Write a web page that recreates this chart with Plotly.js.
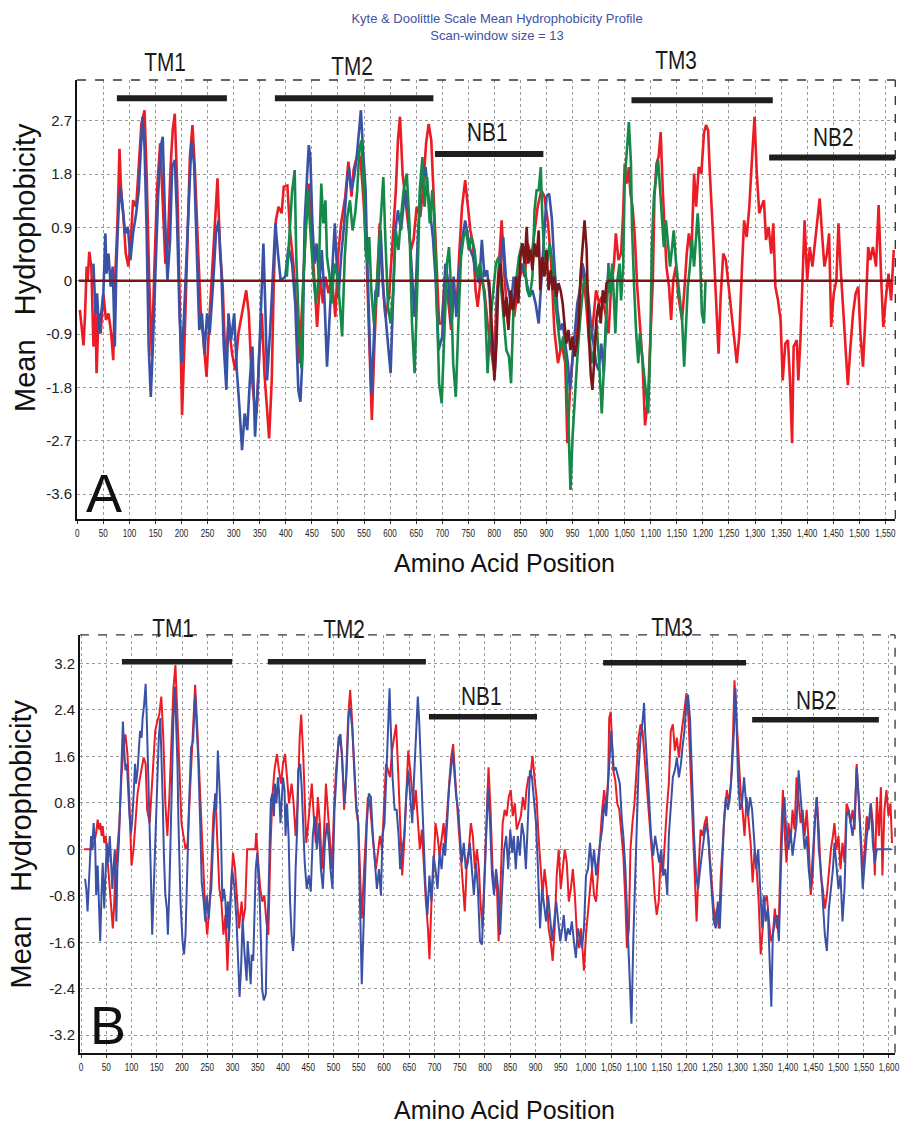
<!DOCTYPE html>
<html>
<head>
<meta charset="utf-8">
<script src="https://cdn.plot.ly/plotly-3.0.1.min.js"></script>
<style>
html,body{margin:0;padding:0;background:#fff;}
#chart{width:906px;height:1125px;}
</style>
</head>
<body>
<div id="chart"></div>
<script>
// ---------------- DATA ----------------
const redA = [[5,-0.49],[9,-0.89],[12,-1.09],[15,-0.55],[18,0.24],[20,0.01],[23,0.49],[27,0.24],[31,-1.11],[35,-0.49],[37,-1.56],[41,-0.55],[45,-0.89],[50,-0.21],[55,-0.66],[60,-0.55],[65,-0.89],[69,-1.34],[73,0.12],[77,0.97],[81,2.23],[84,1.53],[88,1.14],[93,0.46],[98,0.24],[103,0.74],[107,1.36],[113,1.25],[118,1.98],[123,2.65],[129,2.88],[133,1.81],[138,0.01],[143,-1.28],[148,0.24],[153,1.53],[159,2.32],[164,1.42],[169,0.29],[174,0.69],[179,1.92],[183,2.54],[187,2.82],[192,1.53],[197,-0.83],[201,-2.27],[207,-0.66],[212,1.14],[216,2.09],[221,2.63],[226,1.81],[231,0.69],[237,-0.55],[242,-1.0],[248,-1.62],[254,-0.55],[261,0.46],[269,1.73],[274,0.46],[279,-0.1],[284,-1.39],[290,-0.72],[297,-1.23],[303,-1.51],[309,-0.89],[316,-0.55],[324,-0.16],[329,-0.55],[334,-1.56],[339,-2.01],[344,-2.24],[349,-1.23],[354,-0.55],[359,-1.56],[364,-2.24],[368,-2.66],[373,-1.68],[377,0.01],[381,1.02],[386,1.25],[392,1.14],[396,1.59],[403,1.61],[408,0.85],[415,0.24],[426,-1.39],[432,-0.27],[438,0.85],[444,1.64],[450,0.69],[455,-0.21],[460,-0.78],[466,0.07],[471,-0.38],[476,0.07],[482,-0.21],[488,0.07],[495,-0.61],[500,0.40],[506,0.97],[514,1.42],[520,2.01],[526,1.42],[530,1.87],[536,2.09],[543,2.09],[549,1.36],[555,0.40],[560,-1.0],[565,-2.35],[570,-1.06],[576,0.07],[580,0.97],[585,0.07],[591,-0.61],[598,-0.27],[604,0.63],[611,1.53],[615,2.37],[619,2.77],[624,1.81],[629,1.42],[634,1.08],[640,0.52],[645,0.69],[651,1.25],[658,1.08],[664,1.64],[669,2.32],[674,2.65],[679,2.37],[685,1.08],[690,-0.16],[694,-0.72],[699,-0.72],[705,0.07],[712,-0.38],[717,-0.83],[723,-0.16],[728,-0.38],[733,0.52],[738,1.25],[744,1.70],[749,1.25],[754,0.85],[759,0.63],[764,-0.16],[768,-0.44],[774,0.07],[781,-0.16],[787,-0.72],[794,-1.17],[799,-1.51],[804,-0.38],[809,0.40],[814,1.02],[819,0.12],[826,-0.72],[832,-0.27],[838,-0.61],[845,-0.16],[851,0.29],[858,0.07],[864,0.63],[871,0.40],[877,0.85],[883,1.25],[890,1.53],[896,1.42],[903,0.97],[909,0.29],[915,-0.83],[922,-1.39],[929,-1.06],[936,-1.39],[940,-2.74],[945,-1.84],[951,-1.17],[958,-0.83],[964,-0.16],[969,0.29],[976,-0.38],[982,-1.06],[988,-0.83],[995,-0.16],[1001,-0.38],[1006,-0.27],[1013,-0.55],[1019,-0.89],[1024,-0.10],[1029,0.24],[1033,0.80],[1038,0.35],[1043,0.46],[1047,1.14],[1050,1.98],[1054,1.64],[1058,1.92],[1061,1.47],[1065,1.25],[1069,0.80],[1074,-0.10],[1079,-0.66],[1084,-1.34],[1089,-2.44],[1095,-1.96],[1098,-1.23],[1104,0.01],[1107,1.42],[1111,1.98],[1115,2.09],[1119,2.51],[1123,1.53],[1127,0.85],[1130,0.24],[1135,-0.10],[1139,-0.66],[1143,0.01],[1148,0.24],[1153,-0.27],[1160,-0.66],[1164,-0.21],[1169,0.46],[1173,0.80],[1178,0.46],[1183,1.81],[1187,1.25],[1192,1.92],[1197,1.81],[1202,2.49],[1206,2.63],[1210,2.54],[1213,1.87],[1219,0.85],[1222,0.24],[1226,-0.55],[1230,-1.23],[1234,-0.27],[1239,0.46],[1244,0.35],[1249,-0.10],[1254,-0.44],[1259,-0.89],[1265,-1.39],[1270,-0.89],[1275,0.24],[1279,1.02],[1284,0.74],[1289,1.25],[1294,2.04],[1299,2.77],[1303,1.87],[1308,1.14],[1312,1.25],[1317,1.36],[1321,0.69],[1326,0.91],[1331,0.46],[1335,0.97],[1339,-0.10],[1344,-0.33],[1349,-0.66],[1353,-1.68],[1358,-1.06],[1363,-1.0],[1367,-1.68],[1371,-2.74],[1374,-1.11],[1380,-1.0],[1383,-1.68],[1387,-1.0],[1391,0.01],[1395,1.02],[1400,0.01],[1405,0.57],[1410,0.24],[1415,0.69],[1420,1.02],[1424,1.39],[1428,0.85],[1433,0.24],[1438,0.46],[1442,0.80],[1446,-0.78],[1451,-0.21],[1456,0.01],[1460,0.97],[1464,0.24],[1469,-0.44],[1474,-1.11],[1478,-1.76],[1483,-1.11],[1488,-0.55],[1493,-0.21],[1498,-0.10],[1502,-0.89],[1507,-1.45],[1512,-0.55],[1517,0.57],[1521,0.35],[1526,0.57],[1532,0.24],[1537,1.28],[1542,0.01],[1546,-0.78],[1551,-0.27],[1556,0.12],[1561,-0.33],[1566,0.52]];

const blueA = [[31,0.29],[35,-0.55],[38,-0.21],[42,-0.89],[46,-0.55],[50,-0.21],[54,0.8],[56,0.12],[60,0.46],[64,-0.1],[68,0.24],[72,-1.11],[75,0.24],[79,1.14],[83,1.59],[87,1.25],[92,0.8],[97,0.91],[102,0.35],[107,0.8],[113,1.14],[118,1.53],[121,2.15],[125,2.77],[129,2.26],[133,0.85],[137,-1.11],[141,-1.96],[145,-1.11],[150,0.29],[155,1.42],[160,2.26],[164,2.43],[168,1.14],[173,0.01],[178,0.69],[182,1.92],[187,2.04],[191,1.14],[196,-0.55],[200,-1.39],[205,-0.55],[210,0.57],[215,1.7],[219,2.35],[224,1.98],[229,0.57],[234,-0.83],[239,-0.55],[244,-1.23],[249,-0.55],[254,-0.89],[261,0.01],[266,0.8],[271,1.02],[276,0.24],[281,-1.11],[286,-1.84],[290,-0.55],[295,-1.0],[301,-0.55],[306,-1.51],[311,-2.13],[316,-2.86],[321,-2.24],[326,-2.52],[331,-1.68],[336,-1.11],[341,-2.63],[347,-1.68],[352,-0.55],[357,0.63],[361,-0.55],[364,-1.68],[370,-0.83],[375,0.01],[380,0.97],[385,0.46],[390,0.01],[399,0.07],[405,0.57],[412,0.29],[418,-0.38],[424,-1.84],[428,-2.04],[432,-1.28],[436,0.97],[440,1.64],[444,2.29],[447,2.09],[451,0.97],[455,0.29],[459,0.63],[464,-0.04],[469,0.52],[474,-0.27],[479,-1.45],[485,-0.44],[490,0.40],[494,0.97],[497,0.40],[501,-0.27],[506,0.40],[512,0.97],[517,1.64],[521,1.92],[526,1.53],[531,1.75],[536,2.09],[540,2.54],[544,2.88],[547,2.37],[553,1.53],[556,0.40],[560,-0.72],[564,-1.90],[568,-1.17],[572,-0.16],[577,-0.27],[582,0.85],[587,-0.16],[592,-0.72],[597,-1.17],[601,-1.56],[605,-0.44],[610,0.85],[615,1.19],[621,0.85],[626,1.30],[631,1.53],[636,0.97],[642,0.07],[647,-0.61],[653,0.69],[658,1.53],[663,1.75],[668,1.92],[672,1.53],[677,1.08],[682,0.74],[687,0.07],[693,-1.17],[700,-0.94],[706,0.29],[712,-0.04],[717,-0.72],[722,0.07],[727,-0.61],[732,0.07],[738,0.69],[744,1.02],[749,0.79],[754,0.52],[759,0.40],[764,0.18],[771,-0.04],[776,0.69],[781,0.07],[786,0.18],[791,-0.27],[796,-1.28],[801,-1.51],[806,-0.16],[812,0.29],[817,0.74],[822,0.07],[827,-0.16],[832,-0.38],[837,0.07],[842,-0.27],[847,-0.04],[854,0.29],[860,0.07],[867,-0.27],[873,-0.16],[879,-0.38],[885,-0.72],[890,0.07],[895,0.74],[900,1.42],[905,1.47],[910,1.08],[915,0.29],[921,-0.49],[926,-0.83],[931,-0.72],[936,-1.06],[941,-1.39],[945,-1.84],[949,-1.39],[954,-0.83],[959,-0.38],[964,-0.16],[969,0.29],[974,0.07],[979,-0.16],[985,-0.72],[990,-1.06],[995,-1.39],[1000,-1.51],[1005,-1.06],[1010,-1.56],[1015,-0.5],[1019,0.3]];

const greenA = [[402,0.07],[408,0.97],[412,1.5],[417,1.87],[420,0.40],[426,-1.0],[430,-1.48],[434,0.07],[438,0.85],[442,1.53],[447,0.85],[453,0.07],[458,-0.38],[463,0.07],[468,1.64],[472,0.97],[476,1.36],[479,0.40],[484,0.07],[488,-0.38],[493,0.29],[499,0.07],[504,-0.44],[508,-0.94],[513,0.40],[518,1.08],[523,1.36],[528,0.85],[533,1.13],[537,1.53],[541,2.20],[545,2.37],[549,1.75],[553,0.52],[557,0.29],[560,0.74],[564,-0.16],[569,-0.72],[573,-0.27],[578,0.40],[583,1.08],[587,1.75],[591,0.69],[596,-0.44],[601,-0.72],[606,-0.16],[611,0.85],[616,0.52],[621,1.08],[626,1.53],[632,1.81],[637,0.97],[642,-0.72],[647,-1.56],[652,-0.16],[657,1.53],[662,2.09],[666,1.25],[671,1.75],[676,0.97],[681,1.53],[685,0.97],[689,-0.16],[694,-1.73],[699,-2.07],[704,-0.72],[709,0.29],[713,0.57],[717,-0.16],[721,-1.39],[726,-1.96],[731,-0.72],[736,0.40],[741,0.74],[746,0.85],[751,0.52],[756,0.74],[762,0.52],[767,0.07],[772,0.29],[777,0.07],[782,-0.38],[787,-1.56],[792,-0.72],[797,-0.27],[803,0.29],[808,0.40],[813,-0.16],[818,-0.72],[823,-1.17],[828,-1.28],[832,-1.73],[837,-0.38],[842,0.07],[847,0.40],[853,0.63],[858,0.29],[863,-0.16],[868,-0.27],[873,0.07],[877,1.19],[881,1.53],[885,1.53],[889,1.92],[892,1.08],[896,0.40],[901,0.29],[906,0.63],[912,0.29],[917,-0.38],[922,-0.83],[927,-1.17],[932,-0.94],[937,-1.28],[942,-2.41],[946,-3.53],[950,-2.63],[955,-1.84],[960,-1.17],[965,-0.61],[971,-0.04],[976,0.07],[981,-0.72],[986,-1.39],[991,-1.17],[996,-0.72],[1001,-1.39],[1006,-2.24],[1011,-1.28],[1016,-0.27],[1019,0.24],[1022,-0.21],[1026,0.29],[1030,-0.44],[1032,-0.89],[1036,0.01],[1040,0.29],[1043,-0.33],[1047,0.24],[1050,1.70],[1054,2.26],[1058,2.68],[1062,1.98],[1064,0.91],[1068,-0.10],[1072,-0.89],[1076,-1.39],[1079,-0.89],[1083,-1.23],[1087,-1.56],[1091,-1.90],[1095,-2.24],[1099,-1.11],[1102,0.57],[1106,1.42],[1110,1.70],[1114,2.04],[1118,1.53],[1122,0.91],[1125,0.57],[1129,1.02],[1133,0.57],[1137,0.24],[1141,0.57],[1144,0.85],[1148,0.35],[1152,0.01],[1156,-0.44],[1160,-0.66],[1164,-1.45],[1168,-0.55],[1171,-0.10],[1175,0.24],[1179,0.69],[1183,0.24],[1187,0.80],[1190,1.14],[1194,0.57],[1198,-0.55],[1202,-0.72],[1205,0.01]];

const darkRedA = [[3,0],[790,0],[796,-0.9],[800,-1.68],[804,-1.06],[808,0.07],[812,0.29],[815,-0.16],[819,-0.61],[823,-0.27],[827,-0.83],[831,-0.16],[835,-0.49],[838,-0.38],[842,0.07],[846,-0.38],[850,0.40],[854,0.63],[858,0.29],[862,0.91],[865,0.29],[869,0.52],[873,0.18],[877,0.63],[881,0.40],[885,0.85],[888,-0.16],[892,0.40],[896,0.07],[900,0.52],[904,-0.16],[908,0.18],[912,-0.16],[915,0.07],[919,-0.27],[923,-0.04],[927,-0.16],[931,-0.38],[935,-0.72],[938,-1.06],[942,-0.83],[946,-1.17],[950,-0.94],[954,-1.28],[958,-1.06],[962,-0.72],[965,0.07],[969,0.52],[973,1.02],[977,0.52],[981,-0.90],[985,-1.60],[988,-1.84],[992,-1.28],[996,-0.61],[1000,-0.38],[1004,-0.72],[1008,-0.16],[1012,-0.38],[1015,-0.04],[1019,0],[1563,0]];

const redB = [[6,0],[22,0],[26,0.11],[30,0.28],[33,0.51],[36,0.34],[38,0.45],[41,0.23],[43,0.40],[46,0.11],[49,0.23],[53,-0.23],[57,-0.68],[60,-1.02],[63,-1.36],[66,-0.90],[68,-0.34],[72,0],[76,0.45],[80,1.24],[84,1.75],[88,1.98],[92,1.64],[96,0.79],[100,-0.28],[104,0],[108,0.45],[112,0.96],[116,1.19],[120,1.36],[124,1.58],[128,1.47],[131,0.68],[136,0.45],[140,1.07],[143,1.36],[147,2.04],[151,2.20],[155,2.32],[159,2.63],[163,1.92],[167,0.79],[171,0.23],[175,0.90],[179,1.92],[183,2.77],[187,3.17],[191,2.37],[195,1.36],[199,0.45],[203,0.23],[207,0],[211,0.11],[215,0.79],[219,1.47],[222,2.04],[226,2.83],[230,2.15],[234,1.36],[238,0.45],[242,-0.34],[246,-1.07],[250,-1.47],[254,-1.02],[258,-0.34],[262,0.57],[266,0.96],[270,0.23],[274,-0.68],[278,-0.90],[282,-1.47],[286,-1.13],[290,-2.09],[293,-1.36],[297,-0.68],[301,-0.06],[305,-0.34],[309,-0.79],[313,-1.36],[318,-0.90],[321,-1.24],[325,-1.02],[329,0],[345,0],[347,0.28],[351,-0.23],[355,-0.68],[359,-0.90],[363,-0.79],[367,-1.24],[371,-1.47],[375,0],[379,0.90],[383,1.36],[388,1.64],[392,1.36],[396,1.13],[400,1.47],[404,1.64],[408,1.24],[412,0.79],[417,1.13],[421,0.79],[425,0.23],[429,0.79],[433,1.92],[436,2.32],[440,1.64],[444,0.79],[446,0.11],[450,0.45],[454,0.79],[457,1.13],[461,0.57],[465,0.11],[469,0.90],[473,0.45],[477,-0.34],[481,0.23],[485,1.13],[489,0.68],[493,0.23],[497,-0.34],[501,0.68],[505,1.36],[509,1.75],[513,1.92],[517,1.64],[521,0.68],[525,1.24],[529,2.26],[533,2.74],[537,2.20],[541,1.36],[545,0.68],[549,0.45],[553,-0.62],[556,-1.19],[560,-0.45],[564,0.23],[568,0.90],[572,0.79],[576,0.34],[580,0],[584,-0.34],[588,0],[592,0.23],[596,0],[600,0.68],[604,1.47],[608,1.36],[612,1.24],[616,1.70],[620,1.92],[624,2.15],[628,1.36],[632,0.45],[636,-0.45],[640,0.11],[644,0.90],[648,1.70],[652,1.36],[656,1.02],[659,0.68],[663,1.02],[667,0.45],[671,0],[675,0.34],[679,-0.34],[683,-0.90],[687,-1.36],[690,-1.89],[694,-0.90],[698,-0.34],[702,0.45],[706,0.23],[710,-0.11],[714,0.23],[718,0.45],[721,0.11],[725,0.68],[729,1.13],[733,1.58],[737,1.81],[741,1.24],[745,0.68],[749,0.23],[753,-0.23],[757,-0.79],[760,-1.07],[764,-0.23],[768,0],[772,0.45],[776,0.23],[780,-0.34],[784,0],[788,-0.34],[791,-0.90],[795,-1.36],[799,-0.34],[803,0.57],[807,1.41],[811,0.68],[815,-0.34],[819,-0.68],[823,-0.45],[827,-1.58],[831,-0.34],[835,0.45],[839,0.68],[843,0.57],[847,0.90],[851,1.02],[855,0.57],[859,0.79],[863,0.34],[867,0.45],[871,0.57],[875,0.90],[879,0.68],[882,1.02],[886,1.24],[890,1.24],[894,1.61],[898,1.24],[902,0.90],[906,0.23],[910,-0.34],[914,-0.79],[918,-0.34],[922,-0.68],[926,-1.36],[930,-1.58],[934,-1.92],[938,-1.36],[942,-0.45],[946,0],[950,-0.68],[954,-0.34],[958,0],[962,-0.23],[966,-0.90],[970,-0.68],[974,-0.34],[978,-0.79],[982,-1.47],[986,-1.70],[990,-1.36],[993,-1.70],[996,-2.09],[1000,-1.47],[1004,-1.02],[1008,-0.68],[1012,-0.34],[1016,-0.79],[1020,-0.90],[1024,-0.34],[1028,0.11],[1032,0.68],[1036,1.02],[1040,0.68],[1044,1.24],[1046,2.26],[1049,2.37],[1051,1.92],[1054,1.36],[1058,1.19],[1062,0.79],[1066,0.68],[1070,0.23],[1074,-0.11],[1078,-0.90],[1081,-1.70],[1085,-1.36],[1088,0],[1092,0.45],[1096,0.79],[1100,1.36],[1104,1.92],[1108,2.15],[1112,2.04],[1116,1.58],[1120,1.13],[1124,0.68],[1128,0.34],[1132,-0.23],[1136,-0.79],[1140,-1.13],[1144,-0.90],[1148,-0.11],[1152,-0.45],[1156,0.23],[1160,0.68],[1164,1.13],[1168,2.04],[1172,2.15],[1176,1.70],[1180,1.92],[1184,1.58],[1188,1.92],[1191,2.15],[1195,2.37],[1199,2.69],[1203,2.26],[1207,1.36],[1211,0.45],[1215,-0.34],[1219,-1.24],[1223,-0.34],[1227,0.34],[1231,0.23],[1235,0.45],[1239,0.57],[1243,0.11],[1247,-0.34],[1251,-0.90],[1255,-1.24],[1259,-1.02],[1263,-1.36],[1267,-0.45],[1271,0.23],[1275,0.68],[1279,1.02],[1283,0.79],[1287,1.13],[1291,1.92],[1294,2.91],[1298,2.26],[1302,1.47],[1306,1.02],[1310,0.68],[1314,0.23],[1318,0.90],[1322,0.45],[1326,0.11],[1330,-0.57],[1334,0],[1338,-0.34],[1342,-0.90],[1346,-1.81],[1350,-1.36],[1354,-0.90],[1358,-0.79],[1362,-1.24],[1366,-1.58],[1370,-1.47],[1374,-1.02],[1378,-1.36],[1382,-1.24],[1386,0.11],[1390,1.02],[1393,0.34],[1397,-0.23],[1401,0.45],[1405,0.11],[1409,0.68],[1413,0.34],[1417,1.24],[1421,0.90],[1425,0.45],[1429,0.68],[1433,0.23],[1437,0.68],[1441,0.11],[1445,-0.79],[1449,-0.45],[1453,0.45],[1457,0.90],[1461,0.34],[1465,-0.45],[1469,-0.68],[1473,-1.02],[1477,-0.79],[1481,-0.34],[1485,0],[1489,0.23],[1492,0.45],[1496,0],[1500,0.23],[1504,-0.34],[1508,0.11],[1512,-0.23],[1516,0.79],[1520,0.68],[1524,0.45],[1528,0.68],[1532,0.34],[1536,1.47],[1540,0.79],[1544,0.23],[1548,-0.34],[1552,0],[1556,0.57],[1560,0.34],[1564,0.79],[1568,0.45],[1572,-0.45],[1576,0.90],[1580,0.23],[1584,1.07],[1587,-0.45],[1591,0.68],[1595,1.02],[1599,0.57],[1603,0.79],[1606,0.11]];

const blueB = [[8,-0.51],[10.5,-0.68],[13,-1.07],[17,-0.34],[20,0.23],[22,0],[25,0.45],[28,0.11],[30,-0.79],[33,-0.28],[36,-0.90],[38,-1.58],[41,-0.68],[43,-0.23],[46,-1.02],[49,-0.34],[51,0.11],[54,-0.23],[57,0.23],[59,-0.11],[62,-0.68],[64,-0.34],[67,0],[70,-1.24],[72,-0.34],[75,0.11],[78,0.90],[80,1.36],[83,2.20],[86,1.64],[88,1.36],[91,1.47],[93,1.02],[96,0.57],[99,0.28],[101,0.45],[104,0.90],[107,1.47],[109,1.13],[112,1.36],[114,1.64],[117,2.04],[120,1.92],[122,2.26],[125,2.49],[128,2.85],[130,2.32],[133,1.36],[136,0.68],[138,-0.34],[141,-1.47],[143,-0.90],[146,0],[149,0.79],[151,1.47],[154,1.92],[157,2.26],[159,1.75],[162,0.79],[164,-0.06],[167,-0.79],[170,-1.02],[172,-1.47],[175,-0.68],[178,0.45],[180,1.36],[183,2.26],[186,2.80],[188,2.37],[191,1.47],[193,0.45],[197,-0.90],[201,-1.58],[204,-1.81],[207,-1.47],[210,-0.34],[214,0.79],[218,1.75],[222,1.87],[226,2.66],[229,2.20],[232,1.58],[236,0.45],[239,-0.57],[243,-0.90],[246,-1.24],[249,-0.79],[253,-1.19],[255,-0.90],[258,-0.68],[262,0.23],[266,0.96],[268,0.68],[271,1.70],[274,1.13],[276,0.73],[280,-0.90],[283,-0.68],[286,-0.90],[288,-1.36],[291,-0.90],[293,-1.58],[296,-0.90],[299,-0.34],[301,-0.45],[304,-0.68],[308,-1.24],[311,-1.81],[314,-2.54],[317,-2.04],[320,-1.19],[324,-1.81],[328,-2.26],[330,-1.58],[333,-2.04],[336,-2.32],[338,-1.81],[341,-1.92],[343,-1.30],[346,-0.34],[349,-0.06],[351,-0.34],[354,-0.90],[357,-1.81],[359,-2.43],[362,-2.60],[366,-2.49],[368,-1.47],[371,-0.90],[374,0.23],[376,0.85],[379,0.96],[382,0.57],[384,1.13],[387,0.79],[390,1.24],[392,1.02],[395,0.45],[397,0.79],[400,1.24],[403,1.02],[405,0.23],[408,0.79],[411,0.23],[414,-0.90],[417,-1.47],[420,-1.75],[422,-1.47],[425,-0.34],[428,0.34],[430,1.36],[434,1.47],[437,1.07],[440,0.45],[443,-0.23],[447,-0.68],[451,-0.45],[455,-0.73],[459,0.23],[463,0.57],[467,0],[471,0.45],[475,-0.34],[479,-0.68],[483,0.11],[487,0.45],[491,0.11],[494,-0.34],[498,-0.68],[502,0.68],[506,1.36],[510,1.92],[514,1.98],[518,1.47],[522,0.79],[526,1.36],[530,2.32],[533,2.43],[537,2.09],[541,1.47],[545,0.79],[549,0.45],[553,-0.90],[556,-2.32],[559,-1.47],[563,-0.34],[566,0.45],[570,0.96],[574,0.90],[578,0.23],[582,-0.23],[586,-0.68],[590,-0.34],[594,-0.79],[597,0.23],[601,0.45],[605,1.36],[608,2.20],[611,2.77],[613,2.20],[617,1.24],[621,0.68],[625,0.68],[629,0.23],[632,-0.34],[636,0],[640,0.23],[644,0.90],[648,1.36],[652,0.90],[656,0.45],[659,1.13],[663,1.92],[667,2.63],[670,2.15],[674,1.13],[678,0.45],[682,-0.62],[686,-1.13],[690,-0.45],[694,-0.90],[698,-0.11],[702,-0.34],[706,-0.68],[710,-0.06],[714,-0.34],[718,0.11],[721,-0.11],[725,0.45],[729,1.07],[733,1.41],[736,1.70],[739,1.36],[743,0.90],[747,0.68],[750,0.23],[754,-0.23],[758,0.11],[762,-0.34],[766,-0.23],[770,0.11],[774,-0.34],[778,-0.79],[782,-0.23],[786,-0.68],[790,-1.58],[794,-1.64],[798,-0.79],[802,0],[806,1.07],[810,0.45],[814,-0.45],[818,-0.79],[822,-0.34],[826,-0.68],[830,-1.47],[834,-0.68],[838,0],[842,0.23],[846,-0.34],[850,0.34],[854,-0.06],[857,0.23],[861,-0.34],[865,0.23],[869,-0.11],[873,0.45],[877,0.23],[881,-0.34],[885,0.68],[889,1.36],[893,1.24],[897,0.79],[901,0.45],[905,-0.34],[909,-1.36],[913,-0.68],[917,-1.02],[921,-1.24],[925,-0.79],[929,-1.13],[933,-1.58],[937,-1.24],[941,-0.90],[945,-1.24],[949,-1.58],[953,-1.36],[956,-1.13],[960,-1.58],[964,-1.36],[968,-1.47],[972,-1.24],[976,-1.58],[980,-1.87],[984,-1.36],[988,-1.53],[992,-1.70],[996,-1.36],[1000,-0.45],[1004,-0.34],[1008,0.11],[1012,-0.34],[1016,0],[1020,-0.45],[1024,-0.11],[1028,0.11],[1032,0.34],[1036,0.79],[1040,0.57],[1044,1.24],[1048,1.92],[1050,2.04],[1053,1.64],[1055,1.36],[1059,1.41],[1063,1.24],[1067,1.13],[1071,0.51],[1074,0.23],[1078,-0.34],[1082,-1.24],[1086,-2.37],[1090,-3.00],[1094,-1.47],[1098,-0.34],[1100,0.45],[1104,1.36],[1108,1.92],[1112,2.20],[1115,2.52],[1117,2.04],[1121,1.47],[1125,0.90],[1129,0.23],[1133,-0.11],[1137,0.23],[1141,0],[1145,-0.23],[1149,0],[1153,-0.45],[1157,-0.34],[1161,-0.79],[1164,0.23],[1168,0.79],[1172,1.24],[1176,1.36],[1180,1.58],[1184,1.24],[1188,1.47],[1191,1.75],[1195,2.04],[1199,2.54],[1202,2.66],[1206,2.26],[1210,1.07],[1214,0.23],[1218,-0.45],[1222,-0.68],[1226,-0.34],[1230,0],[1234,0.23],[1238,0.45],[1242,0.23],[1246,-0.34],[1250,-0.90],[1253,-1.24],[1257,-1.36],[1261,-0.90],[1265,-1.36],[1269,-0.34],[1273,0.45],[1277,0.90],[1281,0.68],[1285,0.90],[1289,1.36],[1293,2.04],[1296,2.77],[1298,2.20],[1301,1.24],[1305,0.68],[1309,0.79],[1313,1.24],[1317,0.79],[1321,0.57],[1325,0.90],[1329,0.68],[1333,0.23],[1337,-0.34],[1341,0],[1345,-0.68],[1349,-1.36],[1352,-0.79],[1356,-1.24],[1360,-1.02],[1364,-2.04],[1367,-2.71],[1370,-1.47],[1374,-1.24],[1378,-1.13],[1382,-1.58],[1386,-0.34],[1389,0.45],[1393,0.90],[1397,0.23],[1401,0],[1405,0.34],[1409,-0.11],[1413,0.23],[1417,0.45],[1421,1.36],[1425,0.90],[1429,0.57],[1433,0],[1437,0.23],[1441,-0.34],[1445,-0.68],[1449,0],[1453,0.45],[1457,0.90],[1461,0],[1465,-0.34],[1469,-1.02],[1473,-1.47],[1477,-1.75],[1481,-1.02],[1485,-0.68],[1489,-0.34],[1492,0.11],[1496,-0.23],[1500,-0.68],[1504,-0.45],[1508,-1.24],[1512,-0.68],[1516,0.57],[1520,0.68],[1524,0.45],[1528,0.23],[1532,0.57],[1536,1.41],[1540,0.90],[1544,0.23],[1548,-0.68],[1552,-0.23],[1556,0.23],[1560,0.45],[1564,0.79],[1568,0.11],[1572,-0.23],[1576,0],[1605,0]];

// Domain bars: name, start, end, bar level; label positions (x in data units, y as page fraction)
const domainNames = ['TM1', 'TM2', 'NB1', 'TM3', 'NB2'];
const domainStartA = [76, 379, 686, 1063, 1327];
const domainEndA   = [287, 683, 894, 1334, 1569];
const domainLevelA = [3.08, 3.08, 2.14, 3.05, 2.08];
const labelXA = [168, 527, 787, 1148, 1450];
const labelYA = [0.9449, 0.9413, 0.8827, 0.9467, 0.8782];
const domainStartB = [81, 370, 689, 1034, 1329];
const domainEndB   = [299, 683, 903, 1317, 1580];
const domainLevelB = [3.23, 3.23, 2.28, 3.21, 2.23];
const labelXB = [182, 521, 794, 1170, 1457];
const labelYB = [0.4418, 0.4409, 0.3813, 0.4427, 0.3778];

const yTicksA = [-3.6, -2.7, -1.8, -0.9, 0, 0.9, 1.8, 2.7];
const yTickTextA = ['-3.6', '-2.7', '-1.8', '-0.9', '0', '0.9', '1.8', '2.7'];
const yTicksB = [-3.2, -2.4, -1.6, -0.8, 0, 0.8, 1.6, 2.4, 3.2];
const yTickTextB = ['-3.2', '-2.4', '-1.6', '-0.8', '0', '0.8', '1.6', '2.4', '3.2'];

// ---------------- CHART ----------------
const RED = '#ec1c24', BLUE = '#3a52a6', GREEN = '#15894a', DARKRED = '#7b1518';
const SANS = 'Liberation Sans, Arial, sans-serif';

function line(pairs, color, width, xa, ya) {
  return {
    type: 'scatter', mode: 'lines',
    x: pairs.map(p => p[0]), y: pairs.map(p => p[1]),
    xaxis: xa, yaxis: ya,
    line: {color: color, width: width},
    hoverinfo: 'skip', showlegend: false
  };
}

const traces = [
  line(redA, RED, 2.6, 'x', 'y'),
  line(blueA, BLUE, 2.6, 'x', 'y'),
  line(greenA, GREEN, 2.6, 'x', 'y'),
  line(darkRedA, DARKRED, 2.6, 'x', 'y'),
  line(redB, RED, 2, 'x2', 'y2'),
  line(blueB, BLUE, 2, 'x2', 'y2')
];

const shapes = [];
const annotations = [];
function addBars(starts, ends, levels, lx, ly, xa, ya, w) {
  for (let i = 0; i < domainNames.length; i++) {
    shapes.push({type: 'line', xref: xa, yref: ya, x0: starts[i], x1: ends[i], y0: levels[i], y1: levels[i],
      line: {color: '#1e1e1e', width: w}});
    annotations.push({xref: xa, yref: 'paper', x: lx[i], y: ly[i], text: domainNames[i], showarrow: false,
      xanchor: 'center', yanchor: 'middle', font: {family: SANS, size: 26, color: '#1a1a1a'}, cond: true});
  }
}
addBars(domainStartA, domainEndA, domainLevelA, labelXA, labelYA, 'x', 'y', 6);
addBars(domainStartB, domainEndB, domainLevelB, labelXB, labelYB, 'x2', 'y2', 5.5);

[['x', 'y'], ['x2', 'y2']].forEach(([xa, ya]) => {
  shapes.push({type: 'line', xref: xa + ' domain', yref: ya + ' domain', x0: 0, x1: 1, y0: 1, y1: 1,
    line: {color: '#333', width: 1.3, dash: 'dash'}});
  shapes.push({type: 'line', xref: xa + ' domain', yref: ya + ' domain', x0: 1, x1: 1, y0: 0, y1: 1,
    line: {color: '#333', width: 1.3, dash: 'dash'}});
});

annotations.push(
  {xref: 'paper', yref: 'paper', x: 0.0276, y: 0.7618, text: 'Mean\u00a0\u00a0\u00a0Hydrophobicity', textangle: -90,
   showarrow: false, xanchor: 'center', yanchor: 'middle', font: {family: SANS, size: 29, color: '#111'}},
  {xref: 'paper', yref: 'paper', x: 0.0237, y: 0.2498, text: 'Mean\u00a0\u00a0\u00a0Hydrophobicity', textangle: -90,
   showarrow: false, xanchor: 'center', yanchor: 'middle', font: {family: SANS, size: 29, color: '#111'}},
  {xref: 'paper', yref: 'paper', x: 0.5563, y: 0.4996, text: 'Amino Acid Position',
   showarrow: false, xanchor: 'center', yanchor: 'middle', font: {family: SANS, size: 25, color: '#111'}},
  {xref: 'paper', yref: 'paper', x: 0.5563, y: 0.0133, text: 'Amino Acid Position',
   showarrow: false, xanchor: 'center', yanchor: 'middle', font: {family: SANS, size: 25, color: '#111'}},
  {xref: 'paper', yref: 'paper', x: 0.1153, y: 0.5622, text: 'A',
   showarrow: false, xanchor: 'center', yanchor: 'middle', font: {family: SANS, size: 54, color: '#111'}},
  {xref: 'paper', yref: 'paper', x: 0.1187, y: 0.0889, text: 'B',
   showarrow: false, xanchor: 'center', yanchor: 'middle', font: {family: SANS, size: 54, color: '#111'}}
);
const condFlags = annotations.map(a => !!a.cond);
annotations.forEach(a => { delete a.cond; });

const xTickFont = {family: SANS, size: 11, color: '#222'};
const yTickFont = {family: SANS, size: 15, color: '#222'};
const gridStyle = {showgrid: true, gridcolor: '#9a9a9a', griddash: 'dot', gridwidth: 1, zeroline: false};

const layout = {
  width: 906, height: 1125,
  paper_bgcolor: '#fff', plot_bgcolor: '#fff',
  margin: {l: 0, r: 0, t: 0, b: 0},
  showlegend: false,
  title: {
    text: 'Kyte & Doolittle Scale Mean Hydrophobicity Profile<br>Scan-window size = 13',
    x: 0.5486, xanchor: 'center', xref: 'paper', y: 0.9796, yanchor: 'middle', yref: 'container',
    font: {family: SANS, size: 13, color: '#3f51a3'}
  },
  xaxis: Object.assign({
    domain: [0.0850, 0.9882], range: [-0.5, 1569], tickmode: 'linear', tick0: 0, dtick: 50,
    tickformat: ',d', tickangle: 0, tickfont: xTickFont, showline: true, linecolor: '#111', linewidth: 2,
    ticks: 'outside', ticklen: 3, tickcolor: '#333', anchor: 'y'
  }, gridStyle),
  yaxis: Object.assign({
    domain: [0.5387, 0.9289], range: [-4.02, 3.39], tickmode: 'array', tickvals: yTicksA, ticktext: yTickTextA,
    tickfont: yTickFont, showline: true, linecolor: '#111', linewidth: 2, ticks: '', anchor: 'x'
  }, gridStyle),
  xaxis2: Object.assign({
    domain: [0.0883, 0.9879], range: [-2, 1612], tickmode: 'linear', tick0: 0, dtick: 50,
    tickformat: ',d', tickangle: 0, tickfont: xTickFont, showline: true, linecolor: '#111', linewidth: 2,
    ticks: 'outside', ticklen: 3, tickcolor: '#333', anchor: 'y2'
  }, gridStyle),
  yaxis2: Object.assign({
    domain: [0.0643, 0.4356], range: [-3.50, 3.69], tickmode: 'array', tickvals: yTicksB, ticktext: yTickTextB,
    tickfont: yTickFont, showline: true, linecolor: '#111', linewidth: 2, ticks: '', anchor: 'x2'
  }, gridStyle),
  shapes: shapes,
  annotations: annotations
};

// condense a text element horizontally about its own centre (mimics the narrow face of the original)
function condense(el, k) {
  const bb = el.getBBox();
  const cx = bb.x + bb.width / 2;
  const prev = el.getAttribute('transform') || '';
  el.setAttribute('transform', prev + ' translate(' + cx + ',0) scale(' + k + ',1) translate(' + (-cx) + ',0)');
}

Plotly.newPlot('chart', traces, layout, {staticPlot: true, displayModeBar: false}).then(gd => {
  gd.querySelectorAll('.annotation-text').forEach((t, i) => { if (condFlags[i]) condense(t, 0.8); });
  gd.querySelectorAll('.xtick text, .x2tick text').forEach(t => condense(t, 0.74));
});
</script>
</body>
</html>
